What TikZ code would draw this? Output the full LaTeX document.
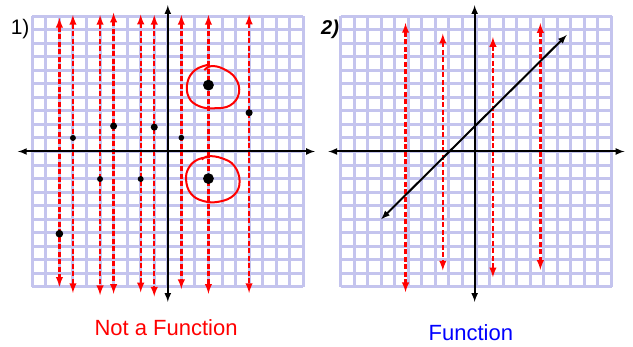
\documentclass[tikz,border=0pt]{standalone}
\usepackage{fontspec}
\newfontfamily\handfont{Liberation Sans}
\definecolor{gridblue}{RGB}{196,196,238}
\tikzset{gridlines/.style = {draw=gridblue, line width=3pt, step=1},
  axis/.style = {<->, >=latex, line width=2pt},
  vline/.style = {<->, >=latex, red, line width=2.3pt, dash pattern=on 5pt off 2.5pt},
  ring/.style = {red, line width=2pt, smooth, tension=.7},
  caption/.style = {font=\handfont\fontsize{22}{26}\selectfont},
  tag/.style = {font=\handfont\fontsize{21}{24}\selectfont}}

\begin{document}
\begin{tikzpicture}[x=13.55pt, y=13.55pt]
  \useasboundingbox (0,0) rectangle (633pt,347pt);
  % 1) not a function
  \begin{scope}[xshift=167.8pt, yshift=195.5pt]
    \draw[gridlines] (-10,-10) grid (10,10);
    \path (-8,9.86) edge[vline] (-8,-9.98)
      (-7,10.07) edge[vline] (-7,-10.44)
      (-5,10.07) edge[vline] (-5,-10.6)
      (-4,10.24) edge[vline] (-4,-10.5)
      (-2,10.1) edge[vline] (-2,-10.4)
      (-1,10.07) edge[vline] (-1,-10.7)
      (1,10.07) edge[vline] (1,-10.15)
      (3,10.07) edge[vline] (3,-10.5)
      (6,10.1) edge[vline] (6,-10.44);
    \draw[axis] (-11.06,0) -- (10.86,0);
    \draw[axis] (0,10.8) -- (0,-11.1);
    \fill (-7,1) circle (.22) (-4,1.88) circle (.26) (-1,1.8) circle (.26)
      (1,1.02) circle (.21) (6,2.86) circle (.26) (-5,-2.03) circle (.22)
      (-2,-2.03) circle (.22) (-8,-6.07) circle (.28);
    \fill (3,4.9) circle (.4) (3,-2) circle (.4);
    \draw[ring] plot coordinates{(2.9,6.38) (2.0,6.0) (1.45,5.1) (1.55,4.0)
      (2.3,3.35) (3.4,3.19) (4.6,3.4) (5.25,4.3) (5.0,5.4) (4.1,6.1)
      (3.2,6.3) (2.7,6.0)};
    \draw[ring] plot coordinates{(3.1,-0.4) (2.2,-0.6) (1.55,-1.2) (1.35,-2.1)
      (1.7,-3.1) (2.6,-3.65) (3.8,-3.7) (4.9,-3.2) (5.3,-2.2) (4.9,-1.05)
      (4.0,-0.5) (3.0,-0.35) (2.5,-0.6)};
    \node[tag] (one) at (-10.9,9.0) {1)};
    \node[caption, red] (notfn) at (-0.13,-13.03) {Not a Function};
  \end{scope}
  % 2) function
  \begin{scope}[xshift=476pt, yshift=195.5pt]
    \draw[gridlines] (-10,-10) grid (10,10);
    \path (-5.2,9.48) edge[vline] (-5.2,-10.38)
      (-2.45,8.69) edge[vline] (-2.45,-8.78)
      (1.25,8.44) edge[vline] (1.25,-9.28)
      (4.75,9.47) edge[vline] (4.75,-8.73);
    \draw[axis] (-10.9,0) -- (10.96,0);
    \draw[axis] (-0.1,10.8) -- (-0.1,-11.1);
    \draw[axis] (-7,-5) -- (6.7,8.6);
    \node[tag, font=\handfont\itshape\bfseries\fontsize{20}{23}\selectfont] (two) at (-10.77,9.0) {2)};
    \node[caption, blue] (fn) at (-0.38,-13.37) {Function};
  \end{scope}
\end{tikzpicture}
\end{document}
